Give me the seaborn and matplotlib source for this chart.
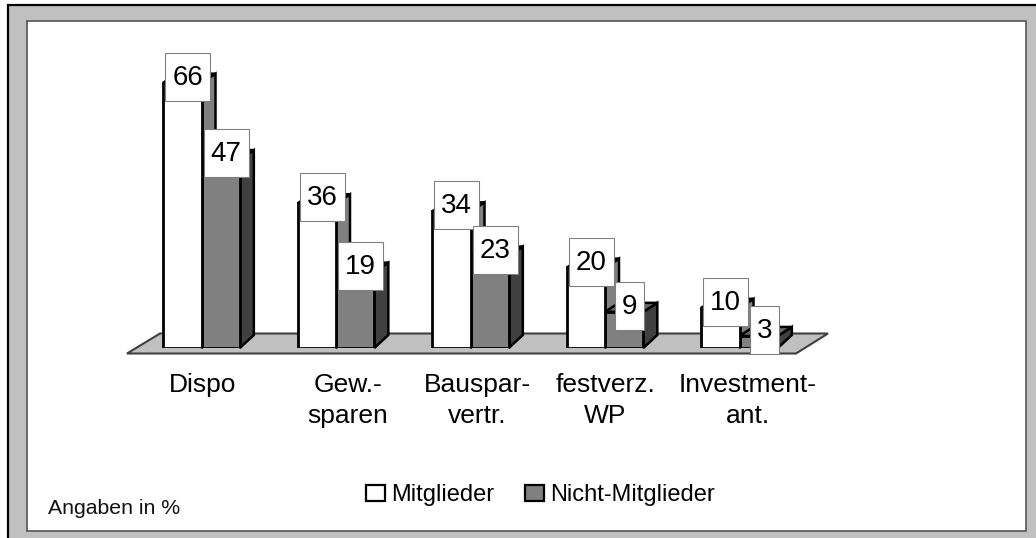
import matplotlib
matplotlib.use("Agg")
import matplotlib.pyplot as plt
import pandas as pd
import seaborn as sns
from matplotlib.patches import Polygon, Rectangle
from matplotlib.transforms import Affine2D, IdentityTransform

categories = ["Dispo", "Gew.-\nsparen", "Bauspar-\nvertr.", "festverz.\nWP", "Investment-\nant."]
mitglieder = [66, 36, 34, 20, 10]
nicht_mitglieder = [47, 19, 23, 9, 3]
series_names = ["Mitglieder", "Nicht-Mitglieder"]
label_shift_px = [1, 12, 7, 0, 8]

W, H = 1036, 538
sns.set_theme(style="white")
plt.rcParams["font.family"] = ["Liberation Sans", "DejaVu Sans"]
plt.rcParams["savefig.dpi"] = "figure"

df = pd.DataFrame({
    "cat": categories * 2,
    "val": mitglieder + nicht_mitglieder,
    "series": [series_names[0]] * 5 + [series_names[1]] * 5,
})

fig = plt.figure(figsize=(W / 100, H / 100), dpi=100, facecolor="white")
px = Affine2D().scale(1, -1).translate(0, H)

# outer frame and white panel
fig.add_artist(Rectangle((8, 5), W + 20, H + 20, transform=px, fc="#c0c0c0", ec="black", lw=1.6, zorder=-5))
fig.add_artist(Rectangle((27, 21), 999, 510, transform=px, fc="white", ec="#555555", lw=1.2, zorder=-4))

PANEL_L, PANEL_R, PANEL_T, BASE = 27, 1026, 21, 348
ax = fig.add_axes([PANEL_L / W, (H - BASE) / H, (PANEL_R - PANEL_L) / W, (BASE - PANEL_T) / H])
ax.patch.set_visible(False)

sns.barplot(
    data=df, x="cat", y="val", hue="series", order=categories, hue_order=series_names,
    palette=["white", "#808080"], width=0.57, gap=0, saturation=1,
    edgecolor="black", linewidth=2.0, errorbar=None, ax=ax,
)
STEP, SCALE, ORIGIN = 134.5, 4.02, 201.5
ax.set_xlim((PANEL_L - ORIGIN) / STEP, (PANEL_R - ORIGIN) / STEP)
ax.set_ylim(0, (BASE - PANEL_T) / SCALE)
ax.set_xlabel("")
ax.set_ylabel("")
ax.set_yticks([])
sns.despine(ax=ax, left=True, bottom=True, top=True, right=True)
ax.tick_params(axis="x", length=0, pad=18, labelsize=19, colors="black")
for lab, shift in zip(ax.get_xticklabels(), label_shift_px):
    lab.set_linespacing(1.38)
    lab.set_transform(lab.get_transform() + Affine2D().translate(shift, 0))

# floor of the pseudo-3D scene
ax.add_patch(Polygon([(127, 353.5), (160, 333.5), (828, 333.5), (796, 353.5)], closed=True,
                     transform=px, fc="#c0c0c0", ec="#404040", lw=1.5, zorder=1, clip_on=False))

DX, DY_TOP, DY_BOT = 14, 9, 13
styles = [("#808080", "white", 2.2, 5), ("#404040", "#666666", 3.2, 4)]
id_t = IdentityTransform()
for cont, (side_c, top_c, z, front_z) in zip(ax.containers, styles):
    for bar in cont:
        bar.set_zorder(front_z)
        x0, y0 = ax.transData.transform((bar.get_x(), 0))
        x1, y1 = ax.transData.transform((bar.get_x() + bar.get_width(), bar.get_height()))
        ax.add_patch(Polygon([(x1, y0), (x1 + DX, y0 + DY_BOT), (x1 + DX, y1 + DY_TOP), (x1, y1)], closed=True,
                             transform=id_t, fc=side_c, ec="black", lw=1.8, zorder=z, clip_on=False))
        ax.add_patch(Polygon([(x0, y1), (x0 + DX, y1 + DY_TOP), (x1 + DX, y1 + DY_TOP), (x1, y1)], closed=True,
                             transform=id_t, fc=top_c, ec="black", lw=1.8, zorder=z, clip_on=False))

# value labels
for cont, vals in zip(ax.containers, [mitglieder, nicht_mitglieder]):
    for bar, v in zip(cont, vals):
        cx = bar.get_x() + bar.get_width() / 2
        dcx, dcy = ax.transData.transform((cx, v))
        bw = 13 + 16 * len(str(v))
        ax.add_patch(Rectangle((dcx + 5.5 - bw / 2, dcy + 6 - 24), bw, 48, transform=id_t,
                               fc="white", ec="#808080", lw=0.8, zorder=8, clip_on=False))
        ax.annotate(str(v), xy=(cx, v), xytext=(5.5, 5), textcoords="offset pixels",
                    ha="center", va="center", fontsize=20, color="black", zorder=9, annotation_clip=False)

handles, labels = ax.get_legend_handles_labels()
for h in handles:
    h.set_linewidth(1.6)
ax.legend(handles, labels, loc="center", bbox_to_anchor=(540.5 / W, 1 - 495.5 / H),
          bbox_transform=fig.transFigure, ncol=2, frameon=False, fontsize=17, borderpad=0, borderaxespad=0,
          handlelength=0.8, handleheight=0.68, handletextpad=0.25, columnspacing=1.3, labelcolor="black")

fig.text(48 / W, 1 - 514 / H, "Angaben in %", fontsize=15.3, color="#111111", ha="left", va="baseline")

fig.savefig("out.png", dpi=100, facecolor="white")
